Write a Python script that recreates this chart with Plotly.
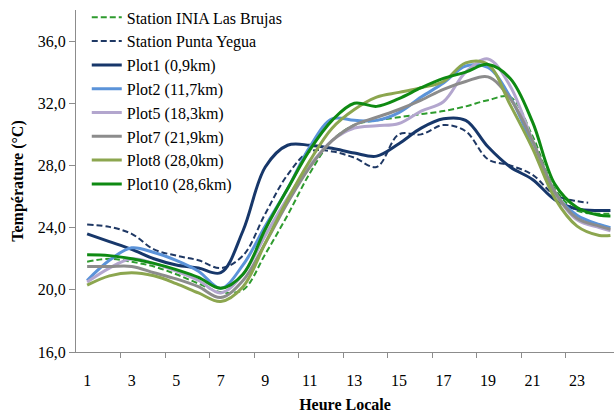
import plotly.graph_objects as go

# ---- data ----
hours = list(range(1, 25)) + [24.5]
hours_py = list(range(1, 24)) + [23.5]

series_names = [
    "Station INIA Las Brujas",
    "Station Punta Yegua",
    "Plot1 (0,9km)",
    "Plot2 (11,7km)",
    "Plot5 (18,3km)",
    "Plot7 (21,9km)",
    "Plot8 (28,0km)",
    "Plot10 (28,6km)",
]

inia = [21.8, 22.0, 21.8, 21.5, 21.0, 20.4, 19.85, 20.0, 22.3, 24.8, 27.5, 29.6, 30.6, 30.9,
        31.1, 31.3, 31.5, 31.8, 32.2, 32.4, 29.9, 26.5, 25.1, 24.9, 24.9]
punta_yegua = [24.2, 24.05, 23.6, 22.6, 22.2, 21.9, 21.4, 22.2, 24.9, 27.4, 28.9, 28.9, 28.5,
               27.9, 30.0, 30.0, 30.6, 30.2, 28.4, 28.0, 27.4, 26.1, 25.7, 25.6]
plot1 = [23.6, 23.1, 22.6, 22.0, 21.6, 21.4, 21.1, 23.8, 27.9, 29.3, 29.3, 29.1, 28.8, 28.6,
         29.4, 30.4, 31.0, 30.9, 29.2, 27.9, 27.1, 25.8, 25.2, 25.1, 25.1]
plot2 = [20.6, 21.9, 22.7, 22.4, 21.9, 21.2, 20.1, 21.6, 24.1, 26.5, 29.2, 31.0, 30.9, 30.9,
         31.4, 32.4, 33.3, 34.4, 34.3, 32.4, 29.3, 26.2, 24.8, 24.2, 24.0]
plot5 = [20.5, 21.4, 22.0, 21.7, 21.2, 20.6, 19.8, 21.0, 23.5, 25.9, 28.0, 29.6, 30.4, 30.55,
         30.7, 31.5, 32.1, 34.0, 34.85, 33.1, 29.6, 26.3, 24.5, 24.0, 23.8]
plot7 = [21.5, 21.5, 21.5, 21.1, 20.7, 20.2, 19.5, 20.6, 23.0, 25.6, 27.9, 29.6, 30.6, 31.1,
         31.6, 32.2, 32.9, 33.4, 33.7, 32.3, 29.6, 26.3, 24.6, 24.1, 23.9]
plot8 = [20.3, 20.9, 21.1, 20.9, 20.4, 19.8, 19.25, 20.2, 23.0, 25.8, 28.3, 30.4, 31.6, 32.4,
         32.7, 33.0, 33.4, 34.6, 34.5, 31.9, 29.1, 25.9, 24.1, 23.5, 23.5]
plot10 = [22.25, 22.2, 22.0, 21.7, 21.3, 20.8, 20.1, 21.0, 23.9, 26.5, 29.0, 30.9, 32.0, 31.8,
          32.3, 33.0, 33.6, 34.0, 34.5, 33.6, 30.8, 26.8, 25.3, 24.8, 24.75]

y_tick_values = [16, 20, 24, 28, 32, 36]
y_tick_labels = ["16,0", "20,0", "24,0", "28,0", "32,0", "36,0"]
x_tick_values = [1, 3, 5, 7, 9, 11, 13, 15, 17, 19, 21, 23]
x_tick_labels = [str(v) for v in x_tick_values]
x_minor_ticks = [2.5, 4.5, 6.5, 8.5, 10.5, 12.5, 14.5, 16.5, 18.5, 20.5, 22.5]

# ---- styling ----
series_x = [hours, hours_py, hours, hours, hours, hours, hours, hours]
series_y = [inia, punta_yegua, plot1, plot2, plot5, plot7, plot8, plot10]
colors = ["#2E9B2E", "#1F3864", "#17376A", "#5B93D9", "#B3A6CE", "#8C8C8C", "#8CA64F", "#0E8A12"]
dashes = ["6px,3px", "6px,3px", "solid", "solid", "solid", "solid", "solid", "solid"]
widths = [2, 2, 3, 3, 3, 3, 3, 3]

FONT = "Liberation Serif, Times New Roman, serif"

fig = go.Figure()
for name, xs, ys, c, d, w in zip(series_names, series_x, series_y, colors, dashes, widths):
    fig.add_trace(go.Scatter(
        x=xs, y=ys, name=name, mode="lines",
        line=dict(color=c, width=w, dash=d, shape="spline", smoothing=1.0),
    ))

fig.update_layout(
    width=614, height=414,
    margin=dict(l=76, r=0, t=10, b=62),
    paper_bgcolor="white", plot_bgcolor="white",
    font=dict(family=FONT, size=16, color="black"),
    showlegend=True,
    legend=dict(
        x=0.02, y=1.028, xanchor="left", yanchor="top",
        bgcolor="rgba(0,0,0,0)", font=dict(family=FONT, size=16, color="black"),
        tracegroupgap=0, itemwidth=30,
    ),
    xaxis=dict(
        range=[0.5, 24.66],
        tickmode="array", tickvals=x_tick_values, ticktext=x_tick_labels,
        ticks="", showgrid=False, zeroline=False,
        showline=True, linecolor="#8C8C8C", linewidth=1,
        ticklabelstandoff=14,
        tickfont=dict(family=FONT, size=16),
        minor=dict(tickmode="array", tickvals=x_minor_ticks, ticks="outside",
                   ticklen=5, tickcolor="#8C8C8C", showgrid=False),
        title=dict(text="<b>Heure Locale</b>", font=dict(family=FONT, size=16), standoff=10),
    ),
    yaxis=dict(
        range=[16, 38],
        tickmode="array", tickvals=y_tick_values, ticktext=y_tick_labels,
        ticks="outside", ticklen=6, tickcolor="#8C8C8C",
        showgrid=False, zeroline=False,
        showline=True, linecolor="#8C8C8C", linewidth=1,
        tickfont=dict(family=FONT, size=16),
        title=dict(text="<b>Température (°C)</b>", font=dict(family=FONT, size=16), standoff=10),
    ),
)

fig.write_html("out.html", config={"displayModeBar": False},
               post_script="document.body.style.margin='0';")
